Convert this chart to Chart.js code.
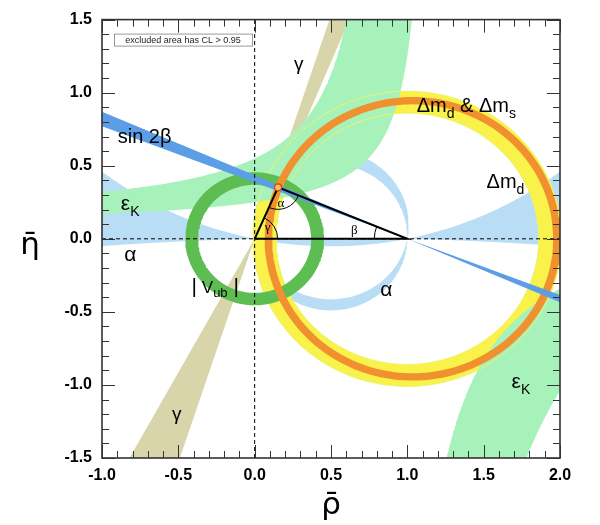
<!DOCTYPE html>
<html>
<head>
<meta charset="utf-8">
<title>Unitarity triangle</title>
<script src="https://cdn.jsdelivr.net/npm/chart.js@4.4.1/dist/chart.umd.min.js"></script>
<style>
  html, body { margin: 0; padding: 0; background: #fff; }
  #box { width: 600px; height: 525px; }
</style>
</head>
<body>
<div id="box"><canvas id="ut" width="600" height="525"></canvas></div>
<script>
// axis ticks
const rhoTicks = [-1.0, -0.5, 0.0, 0.5, 1.0, 1.5, 2.0];
const etaTicks = [-1.5, -1.0, -0.5, 0.0, 0.5, 1.0, 1.5];

// rings: Δmd, Δmd & Δms, |Vub|  (centre, inner and outer radius)
const ringRho = [1.0, 1.035, 0.0];
const ringEta = [0.0, 0.0, 0.0];
const ringInner = [0.86, 0.92, 0.37];
const ringOuter = [1.01, 0.97, 0.455];

// α: bands between circles through (0,0) and (1,0), given by the η of the circle centre
const alphaFlatCentres = [2.404, -20.0];
const alphaRoundCentres = [0.01, 0.095];

// sin 2β: both edges pass through (1,0); η where they meet ρ = -1
const sin2bEdgeEta = [0.77, 0.87];

// γ: wedges from the origin; ρ where the edges reach η = +1.5 / -1.5
const gammaTopRho = [0.49, 0.62];
const gammaBottomRho = [-0.82, -0.49];

// εK band edges, η = k / (a - ρ) + e   (upper branch: 0,1  lower branch: 2,3)
const epsA = [0.872, 1.171, 0.859, 0.859];
const epsK = [0.375, 0.201, 0.708, 2.199];
const epsE = [0.120, 0.078, 0.279, 0.887];

// apex of the triangle
const apexRho = [0.153];
const apexEta = [0.352];

// colours
const colAlpha = '#b8ddf5';
const colGamma = '#d9d5ab';
const colDmd = '#f8f24a';
const colEps = '#a6f2ba';
const colVub = '#5dbd52';
const colDms = '#f0902f';
const colBeta = '#5c9ee6';

// ---- shapes built from the values above ----
function circlePts(cx, cy, r, dir) {
  const pts = [];
  for (let j = 0; j <= 200; j++) {
    const t = dir * 2 * Math.PI * j / 200;
    pts.push({x: cx + r * Math.cos(t), y: cy + r * Math.sin(t)});
  }
  return pts;
}

function ringShape(i) {
  return circlePts(ringRho[i], ringEta[i], ringOuter[i], 1)
    .concat(circlePts(ringRho[i], ringEta[i], ringInner[i], -1));
}

function alphaFlat() {
  const [c1, c2] = alphaFlatCentres;
  const r1 = Math.hypot(0.5, c1), r2 = Math.hypot(0.5, c2);
  const top = [], bottom = [];
  for (let j = 0; j <= 300; j++) {
    const x = -1.3 + 3.6 * j / 300;
    top.push({x, y: c1 - Math.sqrt(r1 * r1 - (x - 0.5) ** 2)});
    bottom.push({x, y: c2 + Math.sqrt(r2 * r2 - (x - 0.5) ** 2)});
  }
  return top.concat(bottom.reverse());
}

function alphaRound() {
  const pts = [];
  alphaRoundCentres.forEach((c, k) => {
    const r = Math.hypot(0.5, c);
    const a0 = Math.atan2(-c, -0.5);
    const dir = k === 0 ? 1 : -1;
    for (let j = 0; j <= 240; j++) {
      const t = a0 + dir * 2 * Math.PI * j / 240;
      pts.push({x: 0.5 + r * Math.cos(t), y: c + r * Math.sin(t)});
    }
  });
  return pts;
}

function wedge(edgeRho, edgeEta) {
  return [{x: 0, y: 0},
    {x: edgeRho[0] * 1.1, y: edgeEta * 1.1},
    {x: edgeRho[1] * 1.1, y: edgeEta * 1.1},
    {x: 0, y: 0}];
}

function sin2bShape() {
  const s = sin2bEdgeEta.map(e => -e / 2);
  const x0 = -1.3, x1 = 2.3;
  return [{x: x0, y: s[0] * (x0 - 1)}, {x: x1, y: s[0] * (x1 - 1)},
    {x: x1, y: s[1] * (x1 - 1)}, {x: x0, y: s[1] * (x0 - 1)}, {x: x0, y: s[0] * (x0 - 1)}];
}

// one edge of the εK band, sampled evenly in log distance from the asymptote
function epsEdge(i, d0, d1) {
  const side = i < 2 ? -1 : 1, pts = [];
  for (let j = 0; j <= 150; j++) {
    const d = Math.exp(Math.log(d0) + (Math.log(d1) - Math.log(d0)) * j / 150);
    pts.push({x: epsA[i] + side * d, y: epsE[i] - side * epsK[i] / d});
  }
  return pts;
}

const epsUpper = epsEdge(0, epsA[0] + 1.3, epsK[0] / (1.7 - epsE[0]))
  .concat(epsEdge(1, epsK[1] / (1.7 - epsE[1]), epsA[1] + 1.3));
const epsLower = epsEdge(2, epsK[2] / (epsE[2] + 1.7), 2.3 - epsA[2])
  .concat(epsEdge(3, 2.3 - epsA[3], epsK[3] / (epsE[3] + 1.7)));

function area(points, color) {
  return {data: points, showLine: true, fill: 'shape', backgroundColor: color,
    borderWidth: 0, pointRadius: 0, tension: 0};
}
function stroke(points, color, width, dash) {
  return {data: points, showLine: true, fill: false, borderColor: color,
    borderWidth: width, borderDash: dash || [], pointRadius: 0, tension: 0};
}

const apex = {x: apexRho[0], y: apexEta[0]};

// bottom to top
const layers = [
  area(alphaFlat(), colAlpha),
  area(alphaRound(), colAlpha),
  area(wedge(gammaTopRho, etaTicks[etaTicks.length - 1]), colGamma),
  area(wedge(gammaBottomRho, etaTicks[0]), colGamma),
  area(ringShape(0), colDmd),
  area(epsUpper, colEps),
  area(epsLower, colEps),
  stroke(circlePts(ringRho[0], ringEta[0], ringOuter[0], 1), '#eef26a', 1),
  stroke(circlePts(ringRho[0], ringEta[0], ringInner[0], 1), '#eef26a', 1),
  area(ringShape(2), colVub),
  area(ringShape(1), colDms),
  area(sin2bShape(), colBeta),
  stroke([{x: 0, y: etaTicks[0]}, {x: 0, y: etaTicks[etaTicks.length - 1]}], '#000', 1, [4, 3]),
  stroke([{x: rhoTicks[0], y: 0}, {x: rhoTicks[rhoTicks.length - 1], y: 0}], '#000', 1, [4, 3]),
  stroke([{x: 0, y: 0}, {x: 1, y: 0}, apex, {x: 0, y: 0}], '#000', 2),
  {data: [apex], showLine: false, pointRadius: 3.5, backgroundColor: '#f7c04a',
    borderColor: '#d0401a', borderWidth: 1.2}
];
const datasets = layers.map((d, i) => Object.assign(d, {order: layers.length - i}));

// text placed in data coordinates: [text, font size, baseline shift]
const textLabels = [
  {rho: -0.897, eta: 0.656, parts: [['sin 2β', 20, 0]]},
  {rho: 0.288, eta: 1.153, parts: [['γ', 19, 0]], center: true},
  {rho: 1.061, eta: 0.867, parts: [['Δm', 20, 0], ['d', 14, 6], [' & Δm', 20, 0], ['s', 14, 6]]},
  {rho: 1.519, eta: 0.350, parts: [['Δm', 20, 0], ['d', 14, 6]]},
  {rho: -0.877, eta: 0.200, parts: [['ε', 21, 0], ['K', 14, 6]]},
  {rho: -0.815, eta: -0.153, parts: [['α', 21, 0]], center: true},
  {rho: -0.413, eta: -0.371, parts: [['|', 21, 0], [' V', 17, 0], ['ub', 13, 4], [' |', 21, 0]]},
  {rho: 0.862, eta: -0.391, parts: [['α', 21, 0]], center: true},
  {rho: -0.511, eta: -1.241, parts: [['γ', 19, 0]], center: true},
  {rho: 1.683, eta: -1.024, parts: [['ε', 21, 0], ['K', 14, 6]]}
];

const SANS = '"Liberation Sans", Arial, Helvetica, sans-serif';

function drawRich(ctx, x, y, parts, center) {
  let w = 0;
  parts.forEach(p => { ctx.font = p[1] + 'px ' + SANS; w += ctx.measureText(p[0]).width; });
  let cx = center ? x - w / 2 : x;
  ctx.textAlign = 'left';
  ctx.textBaseline = 'alphabetic';
  parts.forEach(p => {
    ctx.font = p[1] + 'px ' + SANS;
    ctx.fillText(p[0], cx, y + p[2]);
    cx += ctx.measureText(p[0]).width;
  });
}

const overlay = {
  id: 'overlay',
  afterDatasetsDraw(chart) {
    const {ctx, chartArea: a, scales: {x, y}} = chart;
    ctx.save();

    // angle arcs of the triangle
    const O = {x: x.getPixelForValue(0), y: y.getPixelForValue(0)};
    const B = {x: x.getPixelForValue(1), y: y.getPixelForValue(0)};
    const P = {x: x.getPixelForValue(apex.x), y: y.getPixelForValue(apex.y)};
    const ang = (p, q) => Math.atan2(q.y - p.y, q.x - p.x);
    ctx.strokeStyle = '#000';
    ctx.lineWidth = 1;
    ctx.beginPath(); ctx.arc(O.x, O.y, 23, ang(O, P), 0); ctx.stroke();
    ctx.beginPath(); ctx.arc(P.x, P.y, 22, ang(P, B), ang(P, O)); ctx.stroke();
    ctx.beginPath(); ctx.arc(B.x, B.y, 33, Math.PI, ang(B, P)); ctx.stroke();
    ctx.fillStyle = '#000';
    ctx.font = '13px "Liberation Serif", "Times New Roman", serif';
    ctx.textAlign = 'center';
    ctx.textBaseline = 'middle';
    ctx.fillText('γ', O.x + 13, O.y - 11);
    ctx.fillText('α', P.x + 3, P.y + 16);
    ctx.fillText('β', B.x - 53, B.y - 8);

    // constraint labels
    textLabels.forEach(l => drawRich(ctx, x.getPixelForValue(l.rho), y.getPixelForValue(l.eta), l.parts, l.center));

    // frame and inward ticks
    ctx.strokeStyle = '#333';
    ctx.lineWidth = 1;
    const n = 30;
    for (let i = 0; i <= n; i++) {
      const len = i % 5 === 0 ? 13 : 7;
      const px = Math.round(x.getPixelForValue(rhoTicks[0] + i * 0.1)) + 0.5;
      const py = Math.round(y.getPixelForValue(etaTicks[0] + i * 0.1)) + 0.5;
      ctx.beginPath();
      ctx.moveTo(px, a.bottom); ctx.lineTo(px, a.bottom - len);
      ctx.moveTo(px, a.top); ctx.lineTo(px, a.top + len);
      ctx.moveTo(a.left, py); ctx.lineTo(a.left + len, py);
      ctx.moveTo(a.right, py); ctx.lineTo(a.right - len, py);
      ctx.stroke();
    }
    ctx.lineWidth = 1.6;
    ctx.strokeRect(a.left, a.top, a.right - a.left, a.bottom - a.top);

    // CL note
    ctx.fillStyle = '#fff';
    ctx.fillRect(a.left + 12, a.top + 14, 138, 12);
    ctx.strokeStyle = '#999';
    ctx.lineWidth = 1;
    ctx.strokeRect(a.left + 12.5, a.top + 14.5, 138, 12);
    ctx.fillStyle = '#222';
    ctx.font = '9px ' + SANS;
    ctx.textAlign = 'center';
    ctx.textBaseline = 'middle';
    ctx.fillText('excluded area has CL > 0.95', a.left + 81, a.top + 20.5);

    // axis titles
    ctx.fillStyle = '#000';
    ctx.font = '31px "DejaVu Sans", sans-serif';
    ctx.textBaseline = 'alphabetic';
    ctx.fillText('ρ\u0304', (a.left + a.right) / 2, 514);
    ctx.fillText('η\u0304', 30, 254);
    ctx.restore();
  }
};

new Chart(document.getElementById('ut'), {
  type: 'line',
  data: {datasets},
  options: {
    responsive: false,
    animation: false,
    events: [],
    layout: {padding: {left: 0, right: 40, top: 17, bottom: 0}},
    plugins: {legend: {display: false}, tooltip: {enabled: false}},
    scales: {
      x: {
        type: 'linear', min: rhoTicks[0], max: rhoTicks[rhoTicks.length - 1],
        afterFit(s) { s.height = 67; },
        afterBuildTicks(s) { s.ticks = rhoTicks.map(v => ({value: v})); },
        grid: {display: false, drawTicks: false},
        border: {display: false},
        ticks: {autoSkip: false, maxRotation: 0, padding: 8, color: '#000',
          font: {family: SANS, size: 16, weight: 'bold'}, callback: v => v.toFixed(1)}
      },
      y: {
        type: 'linear', min: etaTicks[0], max: etaTicks[etaTicks.length - 1],
        afterFit(s) { s.width = 102; },
        afterBuildTicks(s) { s.ticks = etaTicks.map(v => ({value: v})); },
        grid: {display: false, drawTicks: false},
        border: {display: false},
        ticks: {autoSkip: false, padding: 10, color: '#000',
          font: {family: SANS, size: 16, weight: 'bold'}, callback: v => v.toFixed(1)}
      }
    }
  },
  plugins: [overlay]
});
</script>
</body>
</html>
